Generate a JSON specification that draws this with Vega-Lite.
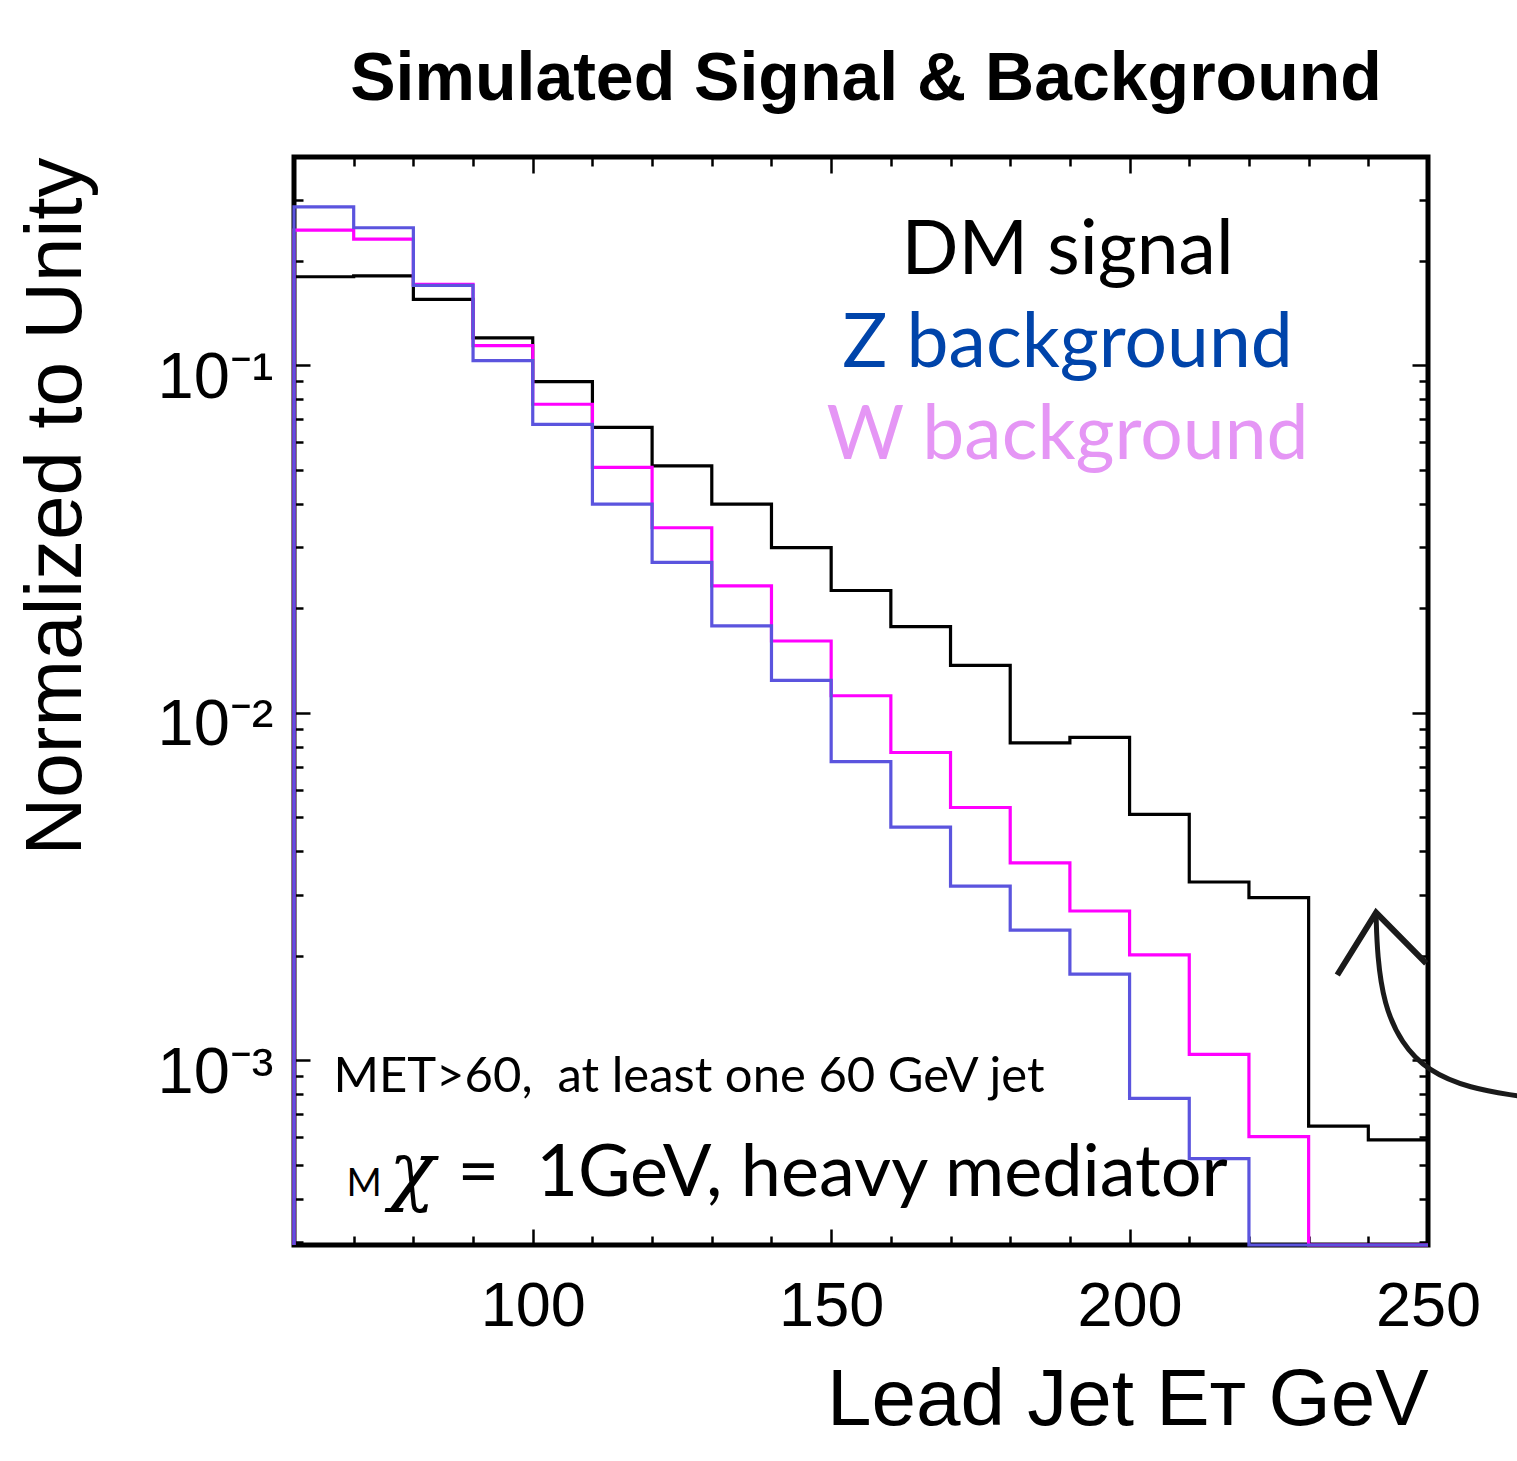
{
  "$schema": "https://vega.github.io/schema/vega-lite/v6.json",
  "width": 1134,
  "height": 1088,
  "autosize": "none",
  "padding": {"left": 294, "top": 157, "right": 89, "bottom": 216},
  "background": "white",
  "title": {
    "text": "Simulated Signal & Background",
    "font": "Liberation Sans",
    "fontSize": 68,
    "fontWeight": "bold",
    "color": "black",
    "anchor": "middle",
    "baseline": "alphabetic",
    "offset": -12,
    "dx": 5
  },
  "config": {
    "view": {"stroke": "black", "strokeWidth": 5},
    "axis": {
      "domain": false,
      "grid": false,
      "tickColor": "black",
      "tickWidth": 2.5,
      "labelColor": "black",
      "titleColor": "black",
      "labelFont": "Liberation Sans",
      "titleFont": "Liberation Sans",
      "titleFontWeight": "normal",
      "labelOverlap": false,
      "labelFlush": false,
      "labelBound": false
    }
  },
  "datasets": {
    "hist": [
      {"s": "DM", "et": 60, "frac": 0.0001},
      {"s": "DM", "et": 60, "frac": 0.180},
      {"s": "DM", "et": 70, "frac": 0.181},
      {"s": "DM", "et": 80, "frac": 0.155},
      {"s": "DM", "et": 90, "frac": 0.120},
      {"s": "DM", "et": 100, "frac": 0.0898},
      {"s": "DM", "et": 110, "frac": 0.0663},
      {"s": "DM", "et": 120, "frac": 0.0514},
      {"s": "DM", "et": 130, "frac": 0.0399},
      {"s": "DM", "et": 140, "frac": 0.0299},
      {"s": "DM", "et": 150, "frac": 0.0225},
      {"s": "DM", "et": 160, "frac": 0.0177},
      {"s": "DM", "et": 170, "frac": 0.0137},
      {"s": "DM", "et": 180, "frac": 0.0082},
      {"s": "DM", "et": 190, "frac": 0.0085},
      {"s": "DM", "et": 200, "frac": 0.0051},
      {"s": "DM", "et": 210, "frac": 0.00326},
      {"s": "DM", "et": 220, "frac": 0.00294},
      {"s": "DM", "et": 230, "frac": 0.000646},
      {"s": "DM", "et": 240, "frac": 0.000590},
      {"s": "DM", "et": 250, "frac": 0.000590},
      {"s": "W", "et": 60, "frac": 0.0001},
      {"s": "W", "et": 60, "frac": 0.245},
      {"s": "W", "et": 70, "frac": 0.231},
      {"s": "W", "et": 80, "frac": 0.171},
      {"s": "W", "et": 90, "frac": 0.114},
      {"s": "W", "et": 100, "frac": 0.0773},
      {"s": "W", "et": 110, "frac": 0.0509},
      {"s": "W", "et": 120, "frac": 0.0341},
      {"s": "W", "et": 130, "frac": 0.0232},
      {"s": "W", "et": 140, "frac": 0.0161},
      {"s": "W", "et": 150, "frac": 0.0112},
      {"s": "W", "et": 160, "frac": 0.00769},
      {"s": "W", "et": 170, "frac": 0.00534},
      {"s": "W", "et": 180, "frac": 0.00370},
      {"s": "W", "et": 190, "frac": 0.00269},
      {"s": "W", "et": 200, "frac": 0.00201},
      {"s": "W", "et": 210, "frac": 0.00104},
      {"s": "W", "et": 220, "frac": 0.000603},
      {"s": "W", "et": 230, "frac": 0.0001},
      {"s": "W", "et": 240, "frac": 0.0001},
      {"s": "W", "et": 250, "frac": 0.0001},
      {"s": "Z", "et": 60, "frac": 0.0001},
      {"s": "Z", "et": 60, "frac": 0.286},
      {"s": "Z", "et": 70, "frac": 0.249},
      {"s": "Z", "et": 80, "frac": 0.170},
      {"s": "Z", "et": 90, "frac": 0.1032},
      {"s": "Z", "et": 100, "frac": 0.0677},
      {"s": "Z", "et": 110, "frac": 0.0399},
      {"s": "Z", "et": 120, "frac": 0.0271},
      {"s": "Z", "et": 130, "frac": 0.0178},
      {"s": "Z", "et": 140, "frac": 0.0124},
      {"s": "Z", "et": 150, "frac": 0.00724},
      {"s": "Z", "et": 160, "frac": 0.00469},
      {"s": "Z", "et": 170, "frac": 0.00317},
      {"s": "Z", "et": 180, "frac": 0.00237},
      {"s": "Z", "et": 190, "frac": 0.00177},
      {"s": "Z", "et": 200, "frac": 0.000777},
      {"s": "Z", "et": 210, "frac": 0.000521},
      {"s": "Z", "et": 220, "frac": 0.0001},
      {"s": "Z", "et": 230, "frac": 0.0001},
      {"s": "Z", "et": 240, "frac": 0.0001},
      {"s": "Z", "et": 250, "frac": 0.0001}
    ],
    "arrow": [
      {"part": "curve", "ax": 265.0, "ay": 0.000790},
      {"part": "curve", "ax": 257.0, "ay": 0.000830},
      {"part": "curve", "ax": 250.0, "ay": 0.000930},
      {"part": "curve", "ax": 245.5, "ay": 0.001120},
      {"part": "curve", "ax": 242.6, "ay": 0.001450},
      {"part": "curve", "ax": 241.5, "ay": 0.00200},
      {"part": "curve", "ax": 241.3, "ay": 0.00262},
      {"part": "head", "ax": 234.8, "ay": 0.00176},
      {"part": "head", "ax": 241.3, "ay": 0.00266},
      {"part": "head", "ax": 249.7, "ay": 0.00190}
    ]
  },
  "data": {"name": "hist"},
  "layer": [
    {
      "transform": [{"filter": "datum.s === 'DM'"}],
      "mark": {"type": "line", "interpolate": "step-after", "color": "black", "strokeWidth": 3.2},
      "encoding": {
        "x": {
          "field": "et", "type": "quantitative",
          "scale": {"domain": [60, 250], "nice": false, "zero": false},
          "axis": {
            "orient": "bottom",
            "values": [70, 80, 90, 100, 110, 120, 130, 140, 150, 160, 170, 180, 190, 200, 210, 220, 230, 240, 250],
            "labelExpr": "datum.value % 50 === 0 ? datum.label : ''",
            "tickSize": {"condition": {"test": "datum.value % 50 === 0", "value": -16}, "value": -9},
            "labelFontSize": 63,
            "labelPadding": 46,
            "title": "Lead Jet E\u1d1b GeV",
            "titleFontSize": 80,
            "titleAnchor": "end",
            "titlePadding": 16
          }
        },
        "y": {
          "field": "frac", "type": "quantitative",
          "scale": {"type": "log", "domain": [0.000294, 0.398], "nice": false, "clamp": true},
          "axis": {
            "orient": "left",
            "values": [0.0003, 0.0004, 0.0005, 0.0006, 0.0007, 0.0008, 0.0009, 0.001, 0.002, 0.003, 0.004, 0.005, 0.006, 0.007, 0.008, 0.009, 0.01, 0.02, 0.03, 0.04, 0.05, 0.06, 0.07, 0.08, 0.09, 0.1, 0.2, 0.3],
            "labelExpr": "datum.value === 0.1 ? '10\u207b\u00b9' : datum.value === 0.01 ? '10\u207b\u00b2' : datum.value === 0.001 ? '10\u207b\u00b3' : ''",
            "tickSize": {"condition": {"test": "datum.value === 0.1 || datum.value === 0.01 || datum.value === 0.001", "value": -16}, "value": -9},
            "labelFontSize": 65,
            "labelPadding": 37,
            "labelOffset": 12,
            "title": "Normalized to Unity",
            "titleFontSize": 80,
            "titleAnchor": "end",
            "titlePadding": 60
          }
        },
        "order": {"value": null}
      }
    },
    {
      "transform": [{"filter": "datum.s === 'W'"}],
      "mark": {"type": "line", "interpolate": "step-after", "color": "#ff00ff", "strokeWidth": 3.2},
      "encoding": {
        "x": {
          "field": "et", "type": "quantitative",
          "scale": {"domain": [60, 250], "nice": false, "zero": false},
          "axis": {
            "orient": "top",
            "values": [70, 80, 90, 100, 110, 120, 130, 140, 150, 160, 170, 180, 190, 200, 210, 220, 230, 240, 250],
            "labels": false,
            "tickSize": {"condition": {"test": "datum.value % 50 === 0", "value": -16}, "value": -9},
            "title": null
          }
        },
        "y": {
          "field": "frac", "type": "quantitative",
          "scale": {"type": "log", "domain": [0.000294, 0.398], "nice": false, "clamp": true},
          "axis": {
            "orient": "right",
            "values": [0.0003, 0.0004, 0.0005, 0.0006, 0.0007, 0.0008, 0.0009, 0.001, 0.002, 0.003, 0.004, 0.005, 0.006, 0.007, 0.008, 0.009, 0.01, 0.02, 0.03, 0.04, 0.05, 0.06, 0.07, 0.08, 0.09, 0.1, 0.2, 0.3],
            "labels": false,
            "tickSize": {"condition": {"test": "datum.value === 0.1 || datum.value === 0.01 || datum.value === 0.001", "value": -16}, "value": -9},
            "title": null
          }
        },
        "order": {"value": null}
      }
    },
    {
      "transform": [{"filter": "datum.s === 'Z'"}],
      "mark": {"type": "line", "interpolate": "step-after", "color": "#5b54de", "strokeWidth": 3.2},
      "encoding": {
        "x": {"field": "et", "type": "quantitative", "scale": {"domain": [60, 250], "nice": false, "zero": false}, "axis": null},
        "y": {"field": "frac", "type": "quantitative", "scale": {"type": "log", "domain": [0.000294, 0.398], "nice": false, "clamp": true}, "axis": null},
        "order": {"value": null}
      }
    },
    {
      "data": {"name": "arrow"},
      "transform": [{"filter": "datum.part === 'curve'"}],
      "mark": {"type": "line", "interpolate": "basis", "color": "#1a1a1a", "strokeWidth": 5, "clip": false},
      "encoding": {
        "x": {"field": "ax", "type": "quantitative", "scale": {"domain": [60, 250], "nice": false, "zero": false}, "axis": null},
        "y": {"field": "ay", "type": "quantitative", "scale": {"type": "log", "domain": [0.000294, 0.398], "nice": false, "clamp": true}, "axis": null},
        "order": {"value": null}
      }
    },
    {
      "data": {"name": "arrow"},
      "transform": [{"filter": "datum.part === 'head'"}],
      "mark": {"type": "line", "color": "#1a1a1a", "strokeWidth": 6, "strokeJoin": "miter", "clip": false},
      "encoding": {
        "x": {"field": "ax", "type": "quantitative", "scale": {"domain": [60, 250], "nice": false, "zero": false}, "axis": null},
        "y": {"field": "ay", "type": "quantitative", "scale": {"type": "log", "domain": [0.000294, 0.398], "nice": false, "clamp": true}, "axis": null},
        "order": {"value": null}
      }
    },
    {
      "data": {"values": [{"t": "DM signal"}]},
      "mark": {"type": "text", "font": "Lato", "fontSize": 75, "align": "center", "baseline": "alphabetic", "color": "black"},
      "encoding": {
        "x": {"datum": 189.6, "type": "quantitative", "scale": {"domain": [60, 250], "nice": false, "zero": false}, "axis": null},
        "y": {"datum": 0.1834, "type": "quantitative", "scale": {"type": "log", "domain": [0.000294, 0.398], "nice": false, "clamp": true}, "axis": null},
        "text": {"field": "t"}
      }
    },
    {
      "data": {"values": [{"t": "Z background"}]},
      "mark": {"type": "text", "font": "Lato", "fontSize": 75, "align": "center", "baseline": "alphabetic", "color": "#0044aa"},
      "encoding": {
        "x": {"datum": 189.6, "type": "quantitative", "scale": {"domain": [60, 250], "nice": false, "zero": false}, "axis": null},
        "y": {"datum": 0.0992, "type": "quantitative", "scale": {"type": "log", "domain": [0.000294, 0.398], "nice": false, "clamp": true}, "axis": null},
        "text": {"field": "t"}
      }
    },
    {
      "data": {"values": [{"t": "W background"}]},
      "mark": {"type": "text", "font": "Lato", "fontSize": 75, "align": "center", "baseline": "alphabetic", "color": "#e596f5"},
      "encoding": {
        "x": {"datum": 189.6, "type": "quantitative", "scale": {"domain": [60, 250], "nice": false, "zero": false}, "axis": null},
        "y": {"datum": 0.0537, "type": "quantitative", "scale": {"type": "log", "domain": [0.000294, 0.398], "nice": false, "clamp": true}, "axis": null},
        "text": {"field": "t"}
      }
    },
    {
      "data": {"values": [{"t": "MET>60,\u00a0 at least one 60 GeV jet"}]},
      "mark": {"type": "text", "font": "Lato", "fontSize": 49, "align": "left", "baseline": "alphabetic", "color": "black"},
      "encoding": {
        "x": {"datum": 66.6, "type": "quantitative", "scale": {"domain": [60, 250], "nice": false, "zero": false}, "axis": null},
        "y": {"datum": 0.000813, "type": "quantitative", "scale": {"type": "log", "domain": [0.000294, 0.398], "nice": false, "clamp": true}, "axis": null},
        "text": {"field": "t"}
      }
    },
    {
      "data": {"values": [{"t": "M"}]},
      "mark": {"type": "text", "font": "Lato", "fontSize": 38, "align": "left", "baseline": "alphabetic", "color": "black"},
      "encoding": {
        "x": {"datum": 68.8, "type": "quantitative", "scale": {"domain": [60, 250], "nice": false, "zero": false}, "axis": null},
        "y": {"datum": 0.000406, "type": "quantitative", "scale": {"type": "log", "domain": [0.000294, 0.398], "nice": false, "clamp": true}, "axis": null},
        "text": {"field": "t"}
      }
    },
    {
      "data": {"values": [{"t": "\u03c7"}]},
      "mark": {"type": "text", "font": "DejaVu Serif", "fontSize": 76, "fontStyle": "italic", "align": "left", "baseline": "alphabetic", "color": "black"},
      "encoding": {
        "x": {"datum": 75.9, "type": "quantitative", "scale": {"domain": [60, 250], "nice": false, "zero": false}, "axis": null},
        "y": {"datum": 0.000406, "type": "quantitative", "scale": {"type": "log", "domain": [0.000294, 0.398], "nice": false, "clamp": true}, "axis": null},
        "text": {"field": "t"}
      }
    },
    {
      "data": {"values": [{"t": "=\u00a0\u00a01GeV, heavy mediator"}]},
      "mark": {"type": "text", "font": "Lato", "fontSize": 72, "align": "left", "baseline": "alphabetic", "color": "black"},
      "encoding": {
        "x": {"datum": 87.4, "type": "quantitative", "scale": {"domain": [60, 250], "nice": false, "zero": false}, "axis": null},
        "y": {"datum": 0.000406, "type": "quantitative", "scale": {"type": "log", "domain": [0.000294, 0.398], "nice": false, "clamp": true}, "axis": null},
        "text": {"field": "t"}
      }
    }
  ],
  "resolve": {"axis": {"x": "independent", "y": "independent"}}
}
